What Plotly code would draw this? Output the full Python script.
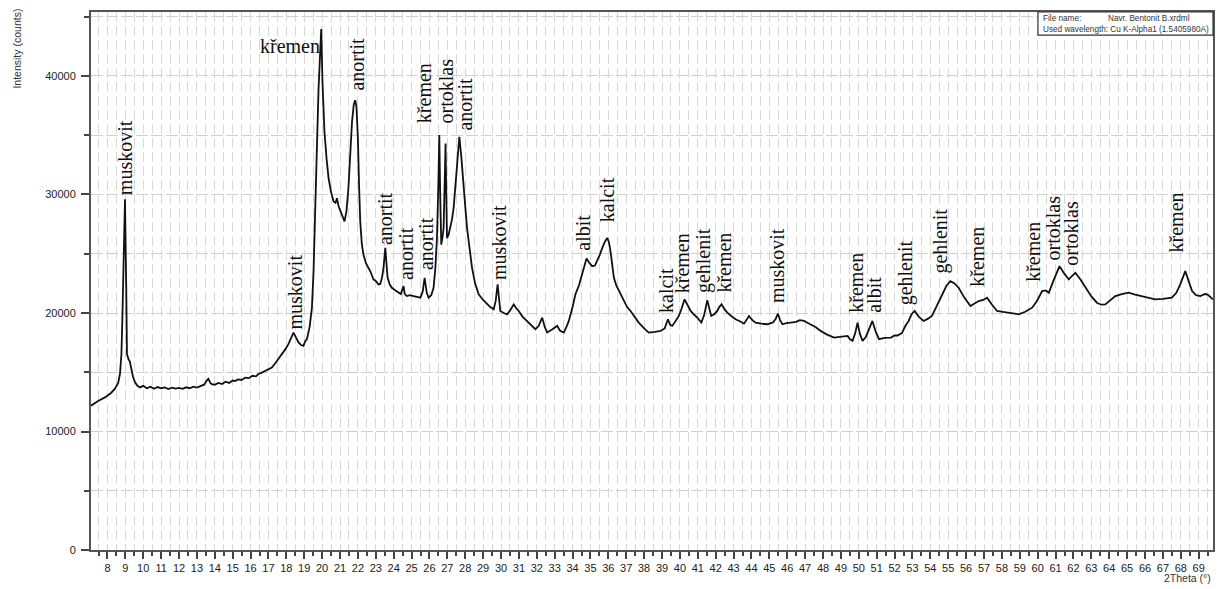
import plotly.graph_objects as go

# XRD pattern
two_theta = [
    7.08, 7.5, 7.86, 8.2, 8.42, 8.6, 8.70, 8.78, 8.83, 8.92, 8.98, 9.05, 9.09, 9.17, 9.25, 9.32,
    9.43, 9.54, 9.68, 9.82, 10.0, 10.2, 10.4, 10.6, 10.8, 11.0, 11.2, 11.4, 11.6, 11.8, 12.0,
    12.2, 12.4, 12.6, 12.8, 13.0, 13.2, 13.4, 13.55, 13.64, 13.75, 13.83, 14.0, 14.2, 14.4,
    14.6, 14.8, 15.0, 15.13, 15.3, 15.5, 15.7, 15.9, 16.1, 16.3, 16.44, 16.6, 16.8, 17.0,
    17.19, 17.4, 17.55, 17.75, 17.95, 18.12, 18.28, 18.40, 18.55, 18.68, 18.82, 18.96, 19.05,
    19.15, 19.3, 19.43, 19.52, 19.61, 19.70, 19.80, 19.88, 19.95, 20.02, 20.13, 20.25, 20.36,
    20.5, 20.64, 20.75, 20.83, 20.92, 21.01, 21.13, 21.25, 21.36, 21.47, 21.57, 21.67, 21.77,
    21.85, 21.92, 22.00, 22.07, 22.13, 22.22, 22.31, 22.45, 22.59, 22.7, 22.87, 23.0, 23.15,
    23.25, 23.35, 23.43, 23.53, 23.60, 23.66, 23.78, 23.90, 24.1, 24.27, 24.4, 24.55, 24.62,
    24.74, 24.9, 25.11, 25.3, 25.49, 25.62, 25.73, 25.85, 25.95, 26.1, 26.23, 26.33, 26.42,
    26.50, 26.55, 26.60, 26.66, 26.74, 26.79, 26.85, 26.90, 26.94, 26.98, 27.07, 27.17, 27.26,
    27.35, 27.45, 27.54, 27.62, 27.67, 27.78, 27.91, 28.0, 28.10, 28.24, 28.38, 28.55, 28.75,
    29.0, 29.22, 29.4, 29.59, 29.70, 29.81, 29.88, 29.96, 30.15, 30.34, 30.5, 30.71, 30.85,
    30.99, 31.2, 31.46, 31.7, 31.92, 32.1, 32.30, 32.45, 32.58, 32.85, 33.14, 33.3, 33.51,
    33.65, 33.79, 34.0, 34.16, 34.35, 34.54, 34.78, 34.95, 35.10, 35.25, 35.38, 35.52, 35.66,
    35.8, 35.94, 36.03, 36.12, 36.2, 36.31, 36.45, 36.59, 36.72, 36.86, 37.05, 37.24, 37.45,
    37.70, 38.0, 38.26, 38.6, 38.92, 39.15, 39.33, 39.45, 39.57, 39.75, 39.94, 40.1, 40.26,
    40.42, 40.60, 40.8, 40.97, 41.20, 41.35, 41.53, 41.64, 41.75, 41.92, 42.09, 42.2, 42.33,
    42.5, 42.65, 42.9, 43.11, 43.35, 43.58, 43.72, 43.86, 44.05, 44.23, 44.55, 44.89, 45.2,
    45.35, 45.48, 45.6, 45.73, 45.95, 46.19, 46.5, 46.7, 46.94, 47.1, 47.31, 47.6, 47.87,
    48.2, 48.62, 49.0, 49.37, 49.5, 49.65, 49.8, 49.93, 50.05, 50.21, 50.4, 50.6, 50.76,
    50.95, 51.13, 51.45, 51.79, 52.0, 52.16, 52.41, 52.6, 52.79, 52.95, 53.12, 53.35, 53.62,
    53.85, 54.09, 54.35, 54.65, 54.9, 55.12, 55.35, 55.58, 55.9, 56.24, 56.45, 56.70, 56.95,
    57.17, 57.45, 57.73, 58.05, 58.38, 58.65, 58.94, 59.3, 59.69, 59.95, 60.25, 60.45, 60.62,
    60.9, 61.22, 61.5, 61.74, 61.9, 62.11, 62.4, 62.67, 63.0, 63.31, 63.55, 63.78, 64.05,
    64.34, 64.7, 65.08, 65.45, 65.83, 66.2, 66.57, 67.0, 67.50, 67.75, 67.97, 68.25, 68.45,
    68.63, 68.85, 69.09, 69.35, 69.5, 69.8,
]
counts = [
    12180, 12600, 12880, 13250, 13610, 14100, 14870, 16500, 19330, 24950, 29600, 22130, 16550,
    16130, 15900, 15400, 14600, 14150, 13850, 13720, 13850, 13650, 13780, 13600, 13750, 13650,
    13720, 13580, 13700, 13620, 13680, 13600, 13730, 13650, 13780, 13700, 13850, 13950, 14300,
    14450, 14100, 14000, 13950, 14100, 14000, 14200, 14100, 14300, 14250, 14400, 14350, 14550,
    14500, 14700, 14650, 14850, 14950, 15100, 15250, 15400, 15800, 16100, 16550, 16950, 17390,
    17900, 18350, 17900, 17510, 17300, 17230, 17600, 17790, 18800, 20450, 23500, 27730, 33500,
    38930, 42500, 43970, 39500, 35290, 33000, 31370, 30200, 29410, 29300, 29690, 29000, 28570,
    28200, 27730, 28600, 30530, 33500, 36130, 37600, 37960, 37400, 34730, 30500, 27730, 25800,
    24930, 24200, 23810, 23500, 22830, 22700, 22410, 22450, 23000, 23810, 25490, 24300, 22970,
    22400, 22130, 21900, 21710, 21600, 22270, 21600, 21430, 21500, 21430, 21350, 21290, 21800,
    22970, 21700, 21290, 21500, 22130, 23800, 26330, 31000, 35010, 30000, 25770, 26500, 27170,
    31000, 34310, 30000, 26330, 26600, 27170, 27900, 28850, 30800, 32770, 34300, 34870, 33200,
    31090, 29000, 27170, 25300, 23810, 22500, 21570, 21100, 20730, 20500, 20310, 21000, 22410,
    21000, 20170, 20000, 19890, 20200, 20730, 20400, 20170, 19700, 19330, 18900, 18630, 18900,
    19610, 18800, 18350, 18600, 18910, 18500, 18350, 18800, 19330, 20500, 21570, 22300, 23250,
    24590, 24200, 23950, 24000, 24370, 24900, 25490, 26000, 26330, 26000, 25210, 24000, 22970,
    22300, 21850, 21500, 21010, 20500, 20170, 19700, 19190, 18700, 18350, 18400, 18490, 18700,
    19470, 19000, 18910, 19300, 19750, 20400, 21150, 20700, 20170, 19850, 19610, 19190, 19800,
    21070, 20300, 19750, 19900, 20170, 20500, 20730, 20300, 20030, 19700, 19470, 19300, 19100,
    19400, 19750, 19400, 19190, 19100, 19050, 19200, 19500, 19940, 19400, 19050, 19150, 19190,
    19250, 19400, 19330, 19200, 19050, 18800, 18490, 18200, 17930, 18000, 18070, 17800, 17650,
    18300, 19190, 18300, 17650, 18000, 18700, 19330, 18400, 17790, 17900, 17930, 18100, 18100,
    18300, 18900, 19330, 19900, 20170, 19700, 19330, 19500, 19750, 20600, 21570, 22300, 22690,
    22500, 22130, 21300, 20590, 20800, 21010, 21100, 21290, 20700, 20170, 20100, 20030, 19950,
    19890, 20100, 20450, 21000, 21850, 21900, 21710, 22800, 23950, 23300, 22830, 23100, 23390,
    22800, 22130, 21400, 20870, 20700, 20730, 21100, 21430, 21600, 21710, 21550, 21430, 21300,
    21150, 21200, 21290, 21700, 22410, 23530, 22600, 21850, 21500, 21430, 21600, 21550, 21150,
]

# phase labels: name, 2theta, count level where the label starts
phase_names = [
    "muskovit", "muskovit", "anortit", "anortit", "anortit", "anortit", "křemen", "ortoklas",
    "anortit", "muskovit", "albit", "kalcit", "kalcit", "křemen", "gehlenit", "křemen",
    "muskovit", "křemen", "albit", "gehlenit", "gehlenit", "křemen", "křemen", "ortoklas",
    "ortoklas", "křemen",
]
phase_pos = [
    8.98, 18.49, 21.96, 23.53, 24.65, 25.77, 25.66, 26.93,
    28.0, 29.85, 34.61, 35.94, 39.25, 40.13, 41.32, 42.44,
    45.46, 49.83, 50.84, 52.63, 54.59, 56.64, 59.72, 60.84,
    61.86, 67.74,
]
phase_level = [
    29900, 18490, 38660, 25630, 22690, 23530, 35970, 35880,
    35290, 22690, 25210, 27560, 19920, 21600, 21600, 21600,
    20760, 19920, 19920, 20590, 23280, 22100, 22520, 24370,
    23950, 25040,
]
# the main quartz reflection is labelled horizontally
top_name = "křemen"
top_pos = 19.92
top_level = 42520

fig = go.Figure()
fig.add_trace(go.Scatter(
    x=two_theta, y=counts,
    mode="lines",
    line=dict(color="#111111", width=1.8),
    showlegend=False,
    hoverinfo="skip",
))

label_font = dict(family="Liberation Serif, Times New Roman, serif", size=20, color="#111111")
for name, pos, level in zip(phase_names, phase_pos, phase_level):
    fig.add_annotation(
        x=pos, y=level, text=name, textangle=-90,
        showarrow=False, xanchor="center", yanchor="bottom",
        font=label_font, borderpad=0,
    )
fig.add_annotation(
    x=top_pos, y=top_level, text=top_name,
    showarrow=False, xanchor="right", yanchor="middle",
    font=label_font, borderpad=0,
)

# info box in the top-right corner
fig.add_shape(
    type="rect", xref="paper", yref="paper",
    x0=0.844, x1=1.0, y0=0.957, y1=1.0,
    line=dict(color="#333333", width=1.2), fillcolor="white",
)
small = dict(family="Arial, Liberation Sans, sans-serif", size=8.2, color="#333333")
fig.add_annotation(xref="paper", yref="paper", x=0.847, y=0.988, text="File name:",
                   showarrow=False, xanchor="left", yanchor="middle", font=small)
fig.add_annotation(xref="paper", yref="paper", x=0.905, y=0.988, text="Navr. Bentonit B.xrdml",
                   showarrow=False, xanchor="left", yanchor="middle", font=small)
fig.add_annotation(xref="paper", yref="paper", x=0.847, y=0.968,
                   text="Used wavelength: Cu K-Alpha1 (1.5405980A)",
                   showarrow=False, xanchor="left", yanchor="middle", font=small)

# axis titles
axis_font = dict(family="Arial, Liberation Sans, sans-serif", size=10.5, color="#333333")
fig.add_annotation(xref="paper", yref="paper", x=-0.066, y=1.01, text="Intensity (counts)",
                   textangle=-90, showarrow=False, xanchor="center", yanchor="top", font=axis_font)
fig.add_annotation(xref="paper", yref="paper", x=1.0, y=-0.052, text="2Theta (°)",
                   showarrow=False, xanchor="right", yanchor="middle", font=axis_font)

tick_font = dict(family="Arial, Liberation Sans, sans-serif", size=11, color="#222222")
fig.update_xaxes(
    range=[7.08, 69.8],
    tickmode="linear", tick0=8, dtick=1,
    ticks="outside", ticklen=7, tickwidth=1.5, tickcolor="#444444",
    tickfont=tick_font,
    showgrid=True, gridcolor="#d9d9d9", gridwidth=1, griddash="10px,4px",
    minor=dict(dtick=0.5, ticks="outside", ticklen=4, tickcolor="#444444",
               showgrid=True, gridcolor="#d9d9d9", gridwidth=1, griddash="10px,4px"),
    showline=True, linecolor="#555555", linewidth=2, mirror=True,
    zeroline=False,
)
fig.update_yaxes(
    range=[0, 45400],
    tickmode="linear", tick0=0, dtick=10000,
    ticks="outside", ticklen=8, tickwidth=1.5, tickcolor="#444444",
    tickfont=tick_font, tickformat="d", ticklabelstandoff=3,
    showgrid=True, gridcolor="#d0d0d0", gridwidth=1, griddash="12px,3px",
    minor=dict(dtick=5000, ticks="outside", ticklen=5, tickcolor="#444444",
               showgrid=True, gridcolor="#d0d0d0", gridwidth=1, griddash="12px,3px"),
    showline=True, linecolor="#555555", linewidth=2, mirror=True,
    zeroline=False,
)
# the page adds an 8px body margin, so the figure is drawn 8px smaller
fig.update_layout(
    width=1220, height=581,
    margin=dict(l=83, r=15, t=2, b=39),
    plot_bgcolor="white",
    paper_bgcolor="white",
    font=dict(family="Arial, Liberation Sans, sans-serif", size=11),
)

fig.write_html("out.html")
